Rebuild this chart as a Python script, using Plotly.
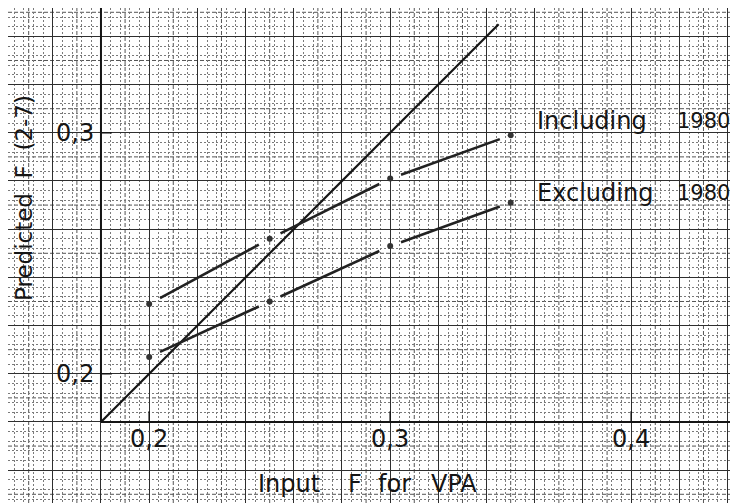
import plotly.graph_objects as go

# input F used in the VPA runs
input_f = [0.20, 0.25, 0.30, 0.35]
# predicted F(2-7)
incl_1980 = [0.229, 0.256, 0.281, 0.299]
excl_1980 = [0.207, 0.230, 0.253, 0.271]
# 1:1 reference line
diag = [0.18, 0.345]

x_ticks = [0.2, 0.3, 0.4]
y_ticks = [0.2, 0.3]
tick_text = {0.2: "0,2", 0.3: "0,3", 0.4: "0,4"}

origin = 0.18
scale = 2410.0          # pixels per unit F on the paper
body = 8                # page margin round the figure
left, top = 0.1381, 0.3551   # paper edges of the scanned sheet

W, H = 738 - 2 * body, 503 - body
x_range = [left + body / scale, left + (body + W) / scale]
y_range = [top - (body + H) / scale, top - body / scale]

FONT = "DejaVu Sans"
INK = "#151515"


def gapped(xs, ys, f=0.09):
    # plotted segments stop short of each point, like the pen plot
    sx, sy = [], []
    for i in range(len(xs) - 1):
        dx = xs[i + 1] - xs[i]
        dy = ys[i + 1] - ys[i]
        sx += [xs[i] + f * dx, xs[i + 1] - f * dx, None]
        sy += [ys[i] + f * dy, ys[i + 1] - f * dy, None]
    return sx, sy


fig = go.Figure()

fig.add_trace(go.Scatter(x=diag, y=diag, mode="lines",
                         line=dict(color=INK, width=2.2)))

for ys in (incl_1980, excl_1980):
    sx, sy = gapped(input_f, ys)
    fig.add_trace(go.Scatter(x=sx, y=sy, mode="lines",
                             line=dict(color="#222222", width=2.6)))
    fig.add_trace(go.Scatter(x=input_f, y=ys, mode="markers",
                             marker=dict(color="#333333", size=6)))

shapes = []
# half-way lines of the graph paper (every 0.01)
k = 0.13
while k < 0.45:
    if round(k / 0.02, 6) != round(k / 0.02):
        shapes.append(dict(type="line", xref="x", yref="paper", x0=k, x1=k,
                           y0=0, y1=1, layer="below",
                           line=dict(color="#555555", width=1, dash="4px,2px")))
        shapes.append(dict(type="line", xref="paper", yref="y", x0=0, x1=1,
                           y0=k, y1=k, layer="below",
                           line=dict(color="#555555", width=1, dash="4px,2px")))
    k = round(k + 0.01, 4)

# axes drawn at 0.18 on the graph paper
shapes += [
    dict(type="line", xref="x", yref="y", x0=origin, x1=origin,
         y0=origin, y1=y_range[1], line=dict(color=INK, width=2)),
    dict(type="line", xref="x", yref="y", x0=origin, x1=x_range[1],
         y0=origin, y1=origin, line=dict(color=INK, width=2)),
]
for xv in x_ticks:
    shapes.append(dict(type="line", xref="x", yref="y", x0=xv, x1=xv,
                       y0=origin, y1=origin + 0.0045,
                       line=dict(color=INK, width=1.5)))
for yv in y_ticks:
    shapes.append(dict(type="line", xref="x", yref="y", x0=origin,
                       x1=origin + 0.0045, y0=yv, y1=yv,
                       line=dict(color=INK, width=1.5)))

ann = []
for xv in x_ticks:
    ann.append(dict(x=xv, y=origin, xref="x", yref="y", text=tick_text[xv],
                    showarrow=False, xanchor="center", yanchor="top",
                    yshift=-1, font=dict(size=24)))
for yv in y_ticks:
    ann.append(dict(x=origin, y=yv, xref="x", yref="y", text=tick_text[yv],
                    showarrow=False, xanchor="right", yanchor="middle",
                    xshift=-5, font=dict(size=24)))


def px(x, y, text, size=24, **kw):
    # x, y in pixels of the original page
    ann.append(dict(x=(x - body) / W, y=1 - (y - body) / H,
                    xref="paper", yref="paper",
                    text=text, showarrow=False, xanchor="left",
                    yanchor="middle", font=dict(size=size), **kw))


px(535, 121, "Including")
px(675, 121, "1980", size=21)
px(535, 193, "Excluding")
px(675, 193, "1980", size=21)
px(256, 484, "Input")
px(346, 484, "F")
px(376, 484, "for")
px(429, 484, "VPA")
ann.append(dict(x=(24 - body) / W, y=1 - (198 - body) / H,
                xref="paper", yref="paper",
                text="Predicted\u00a0\u00a0F\u00a0\u00a0(2-7)", textangle=-90,
                showarrow=False, xanchor="center", yanchor="middle",
                font=dict(size=23)))

grid = dict(showgrid=True, gridcolor="#2e2e2e", gridwidth=1.2,
            tick0=origin, dtick=0.02, showticklabels=False, ticks="",
            zeroline=False, showline=False, fixedrange=True,
            minor=dict(showgrid=True, tick0=origin, dtick=0.004,
                       gridcolor="#7a7a7a", gridwidth=1, griddash="2px,2px"))

fig.update_layout(
    width=W, height=H,
    margin=dict(l=0, r=0, t=0, b=0),
    paper_bgcolor="white", plot_bgcolor="white",
    showlegend=False,
    font=dict(family=FONT, color=INK),
    xaxis=dict(range=x_range, **grid),
    yaxis=dict(range=y_range, **grid),
    shapes=shapes,
    annotations=ann,
)

fig.write_html("out.html")
